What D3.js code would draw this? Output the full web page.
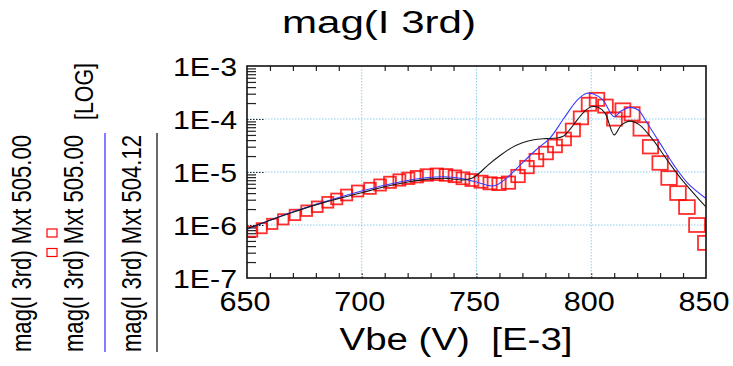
<!DOCTYPE html>
<html>
<head>
<meta charset="utf-8">
<script src="https://cdn.jsdelivr.net/npm/d3@7"></script>
<style>
  body { margin: 0; background: #fff; }
  svg { display: block; }
  text { font-family: "Liberation Sans", Arial, sans-serif; fill: #000; white-space: pre; }
</style>
</head>
<body>
<svg id="chart" width="733" height="366"></svg>
<script>
// Axis ticks
const vbeTicks = [650, 700, 750, 800, 850];
const vbeTickLabels = ["650", "700", "750", "800", "850"];
const magTicks = [1e-7, 1e-6, 1e-5, 1e-4, 1e-3];
const magTickLabels = ["1E-7", "1E-6", "1E-5", "1E-4", "1E-3"];

// Measured third-order current (red squares), Vbe in mV
const redVbe = [652.3, 656.4, 661.0, 665.8, 670.9, 676.0, 680.6, 685.2, 689.1, 693.4,
  698.2, 703.6, 708.0, 712.3, 716.4, 720.3, 724.0, 728.3, 732.7, 736.7,
  740.6, 744.1, 748.0, 752.0, 755.9, 759.8, 763.9, 768.1, 772.0, 776.1,
  780.3, 784.2, 788.1, 792.0, 795.5, 799.0, 802.5, 806.2, 810.1, 813.8,
  817.8, 821.7, 825.8, 830.0, 833.9, 837.8, 841.7, 846.1, 850.0];
const redMag = [7.5e-7, 8.7e-7, 1.05e-6, 1.28e-6, 1.55e-6, 1.86e-6, 2.21e-6, 2.68e-6, 3.1e-6, 3.68e-6,
  4.38e-6, 4.92e-6, 5.69e-6, 6.39e-6, 7.07e-6, 7.6e-6, 8.15e-6, 8.77e-6, 9.05e-6, 8.8e-6,
  8.3e-6, 7.6e-6, 7.06e-6, 6.56e-6, 6.12e-6, 5.94e-6, 6.3e-6, 8.4e-6, 1.24e-5, 1.68e-5,
  2.28e-5, 3.1e-5, 4.2e-5, 6.2e-5, 1.05e-4, 1.9e-4, 2.35e-4, 1.75e-4, 1.0e-4, 1.48e-4,
  1.25e-4, 6.5e-5, 3.0e-5, 1.48e-5, 7.7e-6, 4.0e-6, 2.18e-6, 1.0e-6, 4.6e-7];

// Model 505.00 (blue line)
const blueVbe = [650, 660, 670, 680, 690, 700, 710, 720, 730, 736, 743, 750, 756, 758.5,
  763, 769, 776, 782, 788, 794, 798, 801, 805, 810, 813, 817, 820.5, 824, 830, 836, 842, 850];
const blueMag = [8.3e-7, 1.23e-6, 1.78e-6, 2.45e-6, 3.31e-6, 4.37e-6, 5.62e-6, 6.92e-6, 7.94e-6, 8.13e-6,
  7.59e-6, 6.46e-6, 5.5e-6, 5.62e-6, 7.59e-6, 1.35e-5, 2.63e-5, 4.37e-5, 1.02e-4, 2.29e-4,
  3.05e-4, 2.95e-4, 2.29e-4, 1.1e-4, 1.41e-4, 1.66e-4, 1.48e-4, 8.9e-5, 3.47e-5, 1.35e-5,
  6.17e-6, 3.16e-6];

// Model 504.12 (black line)
const blackVbe = [650, 660, 670, 680, 690, 700, 710, 720, 730, 737, 744, 748, 751, 755,
  760, 765, 770, 775, 780, 785, 788, 791, 794, 797, 800, 803, 806, 810, 813, 817, 821,
  827, 833, 839, 845, 850];
const blackMag = [8.5e-7, 1.23e-6, 1.74e-6, 2.4e-6, 3.16e-6, 4.07e-6, 5.25e-6, 6.46e-6, 7.41e-6, 7.59e-6,
  7.08e-6, 7.59e-6, 9.33e-6, 1.35e-5, 2.0e-5, 2.82e-5, 3.55e-5, 4.07e-5, 4.27e-5, 4.37e-5,
  4.79e-5, 6.61e-5, 9.77e-5, 1.38e-4, 1.7e-4, 1.66e-4, 1.29e-4, 5.01e-5, 7.59e-5, 9.12e-5,
  7.76e-5, 3.98e-5, 1.7e-5, 7.59e-6, 3.8e-6, 2.19e-6];

const legendLabels = ["mag(I 3rd) Mxt 505.00", "mag(I 3rd) Mxt 505.00", "mag(I 3rd) Mxt 504.12"];
const chartTitle = "mag(I 3rd)";
const xTitle = "Vbe (V)  [E-3]";
const logTag = "[LOG]";

const RED = "#ff0000", BLUE = "#3a3aff", BLACK = "#1a1a1a", GRID = "#8ccdf2";

const svg = d3.select("#chart");
const plot = { left: 247, right: 706, top: 66, bottom: 278 };

const x = d3.scaleLinear().domain([650, 850]).range([plot.left, plot.right]);
const y = d3.scaleLog().domain([1e-7, 1e-3]).range([plot.bottom, plot.top]);

svg.append("defs").append("clipPath").attr("id", "plotClip")
  .append("rect")
  .attr("x", plot.left).attr("y", plot.top)
  .attr("width", plot.right - plot.left).attr("height", plot.bottom - plot.top);

// Grid lines at interior major ticks
const grid = svg.append("g");
grid.selectAll("line.gx").data(vbeTicks.slice(1, -1)).join("line")
  .attr("x1", d => x(d)).attr("x2", d => x(d))
  .attr("y1", plot.top).attr("y2", plot.bottom)
  .attr("stroke", GRID).attr("stroke-width", 1).attr("stroke-dasharray", "1.5,1.5");
grid.selectAll("line.gy").data(magTicks.slice(1, -1)).join("line")
  .attr("y1", d => y(d)).attr("y2", d => y(d))
  .attr("x1", plot.left).attr("x2", plot.right)
  .attr("stroke", GRID).attr("stroke-width", 1).attr("stroke-dasharray", "1.5,1.5");

// Minor ticks: every 10 mV on bottom and top, log minors on the left
const xMinor = d3.range(660, 850, 10).filter(v => v % 50 !== 0);
const yMinor = [];
magTicks.slice(0, -1).forEach(dec => { for (let k = 2; k <= 9; k++) yMinor.push(dec * k); });

const bottomMinor = d3.axisBottom(x).tickValues(xMinor).tickSizeInner(-5).tickSizeOuter(0).tickFormat("");
const topMinor = d3.axisTop(x).tickValues(xMinor).tickSizeInner(-5).tickSizeOuter(0).tickFormat("");
const leftMinor = d3.axisLeft(y).tickValues(yMinor).tickSizeInner(-9).tickSizeOuter(0).tickFormat("");

function styleAxis(g) {
  g.select(".domain").remove();
  g.selectAll(".tick line").attr("stroke", "#222").attr("stroke-width", 1.2);
}
svg.append("g").attr("transform", `translate(0,${plot.bottom})`).call(bottomMinor).call(styleAxis);
svg.append("g").attr("transform", `translate(0,${plot.top})`).call(topMinor).call(styleAxis);
svg.append("g").attr("transform", `translate(${plot.left},0)`).call(leftMinor).call(styleAxis);

// Major ticks drawn as dark dotted stubs
const majorX = d3.axisBottom(x).tickValues(vbeTicks.slice(1, -1)).tickSizeInner(-6).tickSizeOuter(0).tickFormat("");
svg.append("g").attr("transform", `translate(0,${plot.bottom})`).call(majorX).call(styleAxis)
  .selectAll(".tick line").attr("stroke-dasharray", "1.5,1.5");
const majorY = d3.axisLeft(y).tickValues(magTicks.slice(1, -1)).tickSizeInner(-18).tickSizeOuter(0).tickFormat("");
svg.append("g").attr("transform", `translate(${plot.left},0)`).call(majorY).call(styleAxis)
  .selectAll(".tick line").attr("stroke-dasharray", "1.5,1.5");

// Data
const data = svg.append("g").attr("clip-path", "url(#plotClip)");
const redPts = redVbe.map((v, i) => ({ v, m: redMag[i] }));
const span = x.range()[1] - x.range()[0];
data.selectAll("rect.pt").data(redPts).join("rect")
  .attr("class", "pt")
  .each(function (d) {
    const px = x(d.v), py = y(d.m);
    const t = (px - x.range()[0]) / span;
    const w = 10 + 6 * t, h = 10 + 4 * t;
    d3.select(this).attr("x", px - w / 2).attr("y", py - h / 2).attr("width", w).attr("height", h);
  })
  .attr("fill", "none").attr("stroke", RED).attr("stroke-width", 1.8).attr("stroke-opacity", 0.82);

const line = d3.line().x(d => x(d.v)).y(d => y(d.m)).curve(d3.curveCatmullRom.alpha(0.5));
data.append("path")
  .datum(blueVbe.map((v, i) => ({ v, m: blueMag[i] })))
  .attr("d", line).attr("fill", "none").attr("stroke", BLUE).attr("stroke-width", 1.1);
data.append("path")
  .datum(blackVbe.map((v, i) => ({ v, m: blackMag[i] })))
  .attr("d", line).attr("fill", "none").attr("stroke", BLACK).attr("stroke-width", 1.1);

// Frame
svg.append("rect")
  .attr("x", plot.left).attr("y", plot.top)
  .attr("width", plot.right - plot.left).attr("height", plot.bottom - plot.top)
  .attr("fill", "none").attr("stroke", "#111").attr("stroke-width", 1.6);

// Tick labels
svg.selectAll("text.ylab").data(magTicks).join("text")
  .attr("class", "ylab")
  .attr("x", 237).attr("y", d => y(d) + 9.5)
  .attr("text-anchor", "end").attr("font-size", 26.5)
  .attr("textLength", 64).attr("lengthAdjust", "spacingAndGlyphs")
  .text((d, i) => magTickLabels[i]);

svg.selectAll("text.xlab").data(vbeTicks).join("text")
  .attr("class", "xlab")
  .attr("x", d => x(d) - 2).attr("y", 311)
  .attr("text-anchor", "middle").attr("font-size", 27)
  .attr("textLength", 51).attr("lengthAdjust", "spacingAndGlyphs")
  .text((d, i) => vbeTickLabels[i]);

// Titles
svg.append("text").attr("x", 379).attr("y", 33).attr("text-anchor", "middle")
  .attr("font-size", 31).attr("textLength", 194).attr("lengthAdjust", "spacingAndGlyphs")
  .text(chartTitle);
svg.append("text").attr("x", 456).attr("y", 350).attr("text-anchor", "middle")
  .attr("font-size", 31).attr("textLength", 233).attr("lengthAdjust", "spacingAndGlyphs")
  .text(xTitle);

// Legend (rotated)
const legendX = [31, 83, 141];
legendLabels.forEach((lab, i) => {
  svg.append("text")
    .attr("transform", `translate(${legendX[i]},352) rotate(-90)`)
    .attr("font-size", 27).attr("textLength", 217).attr("lengthAdjust", "spacingAndGlyphs")
    .text(lab);
});
svg.append("text")
  .attr("transform", "translate(93,120) rotate(-90)")
  .attr("font-size", 25).attr("textLength", 57).attr("lengthAdjust", "spacingAndGlyphs")
  .text(logTag);

[233, 252.5].forEach(cy => {
  svg.append("rect").attr("x", 47).attr("y", cy - 4).attr("width", 10).attr("height", 8)
    .attr("fill", "none").attr("stroke", RED).attr("stroke-width", 1.2);
});
svg.append("line").attr("x1", 105).attr("x2", 105).attr("y1", 133).attr("y2", 352)
  .attr("stroke", BLUE).attr("stroke-width", 1.3);
svg.append("line").attr("x1", 157).attr("x2", 157).attr("y1", 133).attr("y2", 352)
  .attr("stroke", BLACK).attr("stroke-width", 1.3);
</script>
</body>
</html>
